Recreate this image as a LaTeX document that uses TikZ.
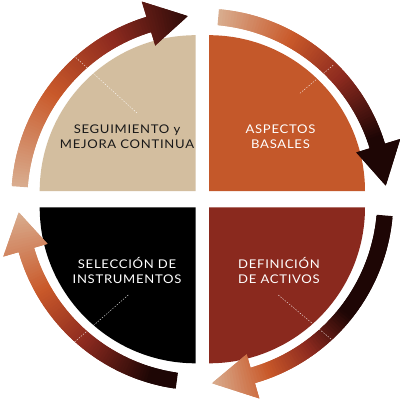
\documentclass[tikz,border=0pt]{standalone}
\usepackage{fontspec}
\newfontfamily\lbl[LetterSpace=6,FakeStretch=1.09]{Lato}
\definecolor{beigeQ}{HTML}{D3BE9F}
\definecolor{orangeQ}{HTML}{C4582A}
\definecolor{redQ}{HTML}{8A291E}
\definecolor{gTan}{HTML}{D9AD8F}
\definecolor{gOrange}{HTML}{C9592A}
\definecolor{gRed}{HTML}{8D2A1F}
\definecolor{gDark}{HTML}{1E0605}
\tikzset{
  dashline/.style={white, line width=0.45pt, dash pattern=on 1.4pt off 1.4pt, opacity=0.85},
  labeltext/.style={anchor=base, align=center, font={\lbl\fontsize{12}{15}\selectfont}},
}
% #1 tail angle, #2 head-back angle, #3 tip angle, #4: 0 = light at tail, 1 = light at tip, #5 gradient speed
\newcommand{\gradarrow}[5]{%
  \begin{scope}
    \clip (#1:191pt) arc[start angle=#1, end angle=#2, radius=191pt] -- (#2:207pt) -- (#3:184pt) -- (#2:161pt) -- (#2:175pt) arc[start angle=#2, end angle=#1, radius=175pt] -- cycle;
    \pgfmathsetmacro\La{ifthenelse(#4==0,#1,#3)}
    \pgfmathsetmacro\Da{ifthenelse(#4==0,#3,#1)}
    \foreach \i in {0,...,89}{%
      \pgfmathsetmacro\aa{\La+(\Da-\La)*(\i-0.5)/90}
      \pgfmathsetmacro\bb{\La+(\Da-\La)*(\i+1.5)/90}
      \pgfmathsetmacro\t{min(1,#5*\i/89)}
      \ifdim \t pt < 0.33pt
        \pgfmathtruncatemacro\p{\t/0.33*100}\colorlet{cc}{gOrange!\p!gTan}
      \else\ifdim \t pt < 0.6pt
        \pgfmathtruncatemacro\p{(\t-0.33)/0.27*100}\colorlet{cc}{gRed!\p!gOrange}
      \else\ifdim \t pt < 0.9pt
        \pgfmathtruncatemacro\p{(\t-0.6)/0.3*100}\colorlet{cc}{gDark!\p!gRed}
      \else
        \colorlet{cc}{gDark}
      \fi\fi\fi
      \fill[cc] (0,0) -- (\aa:240pt) -- (\bb:240pt) -- cycle;
    }
  \end{scope}}
\begin{document}
\begin{tikzpicture}[x=1pt,y=1pt]
  \fill[white] (0,0) rectangle (400,400);
  \useasboundingbox (0,0) rectangle (400,400);
  % quadrants
  \fill[beigeQ] (195.7,208.8) -- ++(-156,0) arc[start angle=180, end angle=90, radius=156pt] -- cycle;
  \fill[orangeQ] (209,208.8) -- ++(156,0) arc[start angle=0, end angle=90, radius=156pt] -- cycle;
  \fill[black] (195.7,192.7) -- ++(-156,0) arc[start angle=180, end angle=270, radius=156pt] -- cycle;
  \fill[redQ] (209,192.7) -- ++(156,0) arc[start angle=0, end angle=-90, radius=156pt] -- cycle;
  % arrows
  \begin{scope}[shift={(202.3,200.5)}]
    \gradarrow{176}{107}{94.5}{0}{0.85}
    \gradarrow{85}{17}{4.3}{0}{1.1}
    \gradarrow{-5}{-74}{-87}{1}{1.5}
    \gradarrow{-98}{-164}{-176}{1}{1.0}
  \end{scope}
  % dashed guide lines
  \coordinate (tlA) at (137,287);   \coordinate (tlB) at (73,345);
  \coordinate (trA) at (300,306.7); \coordinate (trB) at (334,335.5);
  \coordinate (brA) at (278.3,105); \coordinate (brB) at (331,61);
  \coordinate (blA) at (128.3,105); \coordinate (blB) at (74,57.5);
  \draw[dashline] (tlA) -- (tlB);
  \draw[dashline] (trA) -- (trB);
  \draw[dashline] (brA) -- (brB);
  \draw[dashline] (blA) -- (blB);
  % labels
  \node[labeltext, text=black!90] (seg) at (127,251.7) {SEGUIMIENTO y\\MEJORA CONTINUA};
  \node[labeltext, text=white] (asp) at (280.5,251.7) {ASPECTOS\\BASALES};
  \node[labeltext, text=white] (sel) at (127,117) {SELECCIÓN DE\\INSTRUMENTOS};
  \node[labeltext, text=white] (def) at (279,116.6) {DEFINICIÓN\\DE ACTIVOS};
\end{tikzpicture}
\end{document}
